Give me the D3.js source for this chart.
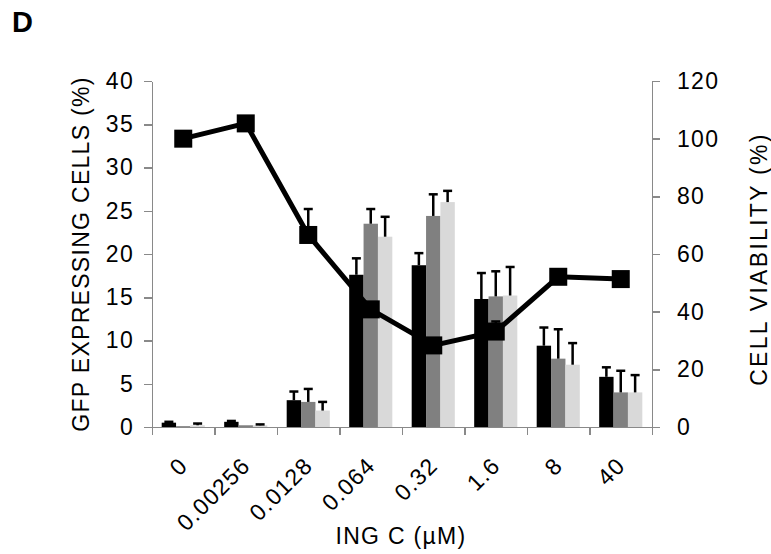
<!DOCTYPE html>
<html lang="en">
<head>
    <meta charset="UTF-8">
    <title>ING C dose response</title>
    <script src="https://d3js.org/d3.v7.min.js"></script>
    <style>
        body { margin: 0; background: white; }
        text { font-family: 'Liberation Sans', Arial, sans-serif; fill: #000; }
        .axis path, .axis line { stroke: #898989; stroke-width: 1.5; shape-rendering: crispEdges; }
        .axis text { font-size: 23px; letter-spacing: 1.3px; }
    </style>
</head>
<body>
    <svg id="chart" width="771" height="554"></svg>

    <script>
        // data
        const doses = ["0", "0.00256", "0.0128", "0.064", "0.32", "1.6", "8", "40"];
        const seriesNames = ["s1", "s2", "s3"];
        const gfpS1 = [0.5, 0.6, 3.1, 17.6, 18.7, 14.8, 9.4, 5.8];
        const gfpS2 = [0.1, 0.2, 2.9, 23.5, 24.4, 15.1, 7.9, 4.0];
        const gfpS3 = [0.2, 0.2, 1.9, 22.0, 26.0, 15.2, 7.2, 4.0];
        const errS1 = [0.1, 0.1, 1.0, 1.9, 1.4, 3.0, 2.1, 1.1];
        const errS2 = [0.0, 0.0, 1.5, 1.7, 2.5, 2.9, 3.4, 2.5];
        const errS3 = [0.2, 0.1, 1.0, 2.3, 1.3, 3.3, 2.5, 2.0];
        const viability = [100, 105.3, 66.6, 40.8, 28.3, 33.1, 52.1, 51.3];
        const viabilityErr = [0, 0, 9, 0, 0, 3.5, 0, 0];
        const leftTicks = [0, 5, 10, 15, 20, 25, 30, 35, 40];
        const rightTicks = [0, 20, 40, 60, 80, 100, 120];

        const barColors = ["#000000", "#808080", "#d9d9d9"];

        const margin = { top: 81, right: 119, bottom: 127, left: 152 };
        const width = 771 - margin.left - margin.right;
        const height = 554 - margin.top - margin.bottom;

        const svg = d3.select("#chart");
        const g = svg.append("g").attr("transform", `translate(${margin.left},${margin.top})`);

        const x = d3.scaleBand().domain(doses).range([0, width]);
        const xSub = d3.scaleBand().domain(seriesNames)
            .range([x.bandwidth() * 0.155, x.bandwidth() * 0.845]);
        const xEdge = d3.scaleLinear().domain([0, doses.length]).range([0, width]);
        const yL = d3.scaleLinear().domain([0, 40]).range([height, 0]);
        const yR = d3.scaleLinear().domain([0, 120]).range([height, 0]);

        // axes
        g.append("g").attr("class", "axis")
            .call(d3.axisLeft(yL).tickValues(leftTicks).tickSize(8).tickSizeOuter(0).tickPadding(10));

        g.append("g").attr("class", "axis")
            .attr("transform", `translate(${width},0)`)
            .call(d3.axisRight(yR).tickValues(rightTicks).tickSize(8).tickSizeOuter(0).tickPadding(17));

        g.append("g").attr("class", "axis")
            .attr("transform", `translate(0,${height})`)
            .call(d3.axisBottom(xEdge).tickValues(d3.range(doses.length + 1)).tickFormat("").tickSize(8).tickSizeOuter(0));

        // x tick labels, rotated
        g.append("g").selectAll("text")
            .data(doses)
            .join("text")
            .attr("transform", d => `translate(${x(d) + x.bandwidth() / 2 + 6},${height + 40}) rotate(-45)`)
            .attr("text-anchor", "end")
            .style("font-size", "23px")
            .style("letter-spacing", "1.3px")
            .text(d => d);

        // bars
        const bars = doses.map((d, i) => [
            { dose: d, s: "s1", v: gfpS1[i], e: errS1[i], c: barColors[0] },
            { dose: d, s: "s2", v: gfpS2[i], e: errS2[i], c: barColors[1] },
            { dose: d, s: "s3", v: gfpS3[i], e: errS3[i], c: barColors[2] }
        ]).flat();

        g.append("g").selectAll("rect")
            .data(bars)
            .join("rect")
            .attr("x", d => x(d.dose) + xSub(d.s))
            .attr("y", d => yL(d.v))
            .attr("width", xSub.bandwidth())
            .attr("height", d => height - yL(d.v))
            .attr("fill", d => d.c);

        // bar error bars (upper only)
        const eb = g.append("g").attr("stroke", "#000").attr("stroke-width", 2.5);
        bars.filter(d => d.e > 0).forEach(d => {
            const cx = x(d.dose) + xSub(d.s) + xSub.bandwidth() / 2;
            eb.append("line").attr("x1", cx).attr("x2", cx).attr("y1", yL(d.v)).attr("y2", yL(d.v + d.e));
            eb.append("line").attr("x1", cx - 4.5).attr("x2", cx + 4.5).attr("y1", yL(d.v + d.e)).attr("y2", yL(d.v + d.e));
        });

        // viability line
        const pts = doses.map((d, i) => ({ dose: d, v: viability[i], e: viabilityErr[i] }));
        const cxOf = d => x(d.dose) + x.bandwidth() / 2;

        const lineErr = g.append("g").attr("stroke", "#000").attr("stroke-width", 2.5);
        pts.filter(d => d.e > 0).forEach(d => {
            lineErr.append("line").attr("x1", cxOf(d)).attr("x2", cxOf(d)).attr("y1", yR(d.v)).attr("y2", yR(d.v + d.e));
            lineErr.append("line").attr("x1", cxOf(d) - 4.5).attr("x2", cxOf(d) + 4.5).attr("y1", yR(d.v + d.e)).attr("y2", yR(d.v + d.e));
        });

        g.append("path")
            .datum(pts)
            .attr("fill", "none")
            .attr("stroke", "#000")
            .attr("stroke-width", 5)
            .attr("d", d3.line().x(cxOf).y(d => yR(d.v)));

        g.append("g").selectAll("rect")
            .data(pts)
            .join("rect")
            .attr("x", d => cxOf(d) - 9)
            .attr("y", d => yR(d.v) - 9)
            .attr("width", 18)
            .attr("height", 18)
            .attr("fill", "#000");

        // titles
        svg.append("text")
            .attr("transform", `translate(89,${margin.top + height / 2}) rotate(-90)`)
            .attr("text-anchor", "middle")
            .style("font-size", "23px")
            .style("letter-spacing", "1.3px")
            .text("GFP EXPRESSING CELLS (%)");

        svg.append("text")
            .attr("transform", `translate(767,${margin.top + height / 2 + 5}) rotate(-90)`)
            .attr("text-anchor", "middle")
            .style("font-size", "23px")
            .style("letter-spacing", "2.3px")
            .text("CELL VIABILITY (%)");

        svg.append("text")
            .attr("x", 401)
            .attr("y", 544)
            .attr("text-anchor", "middle")
            .style("font-size", "23px")
            .style("letter-spacing", "1.3px")
            .text("ING C (µM)");

        svg.append("text")
            .attr("x", 12)
            .attr("y", 32)
            .style("font-size", "29px")
            .style("font-weight", "bold")
            .text("D");
    </script>
</body>
</html>
